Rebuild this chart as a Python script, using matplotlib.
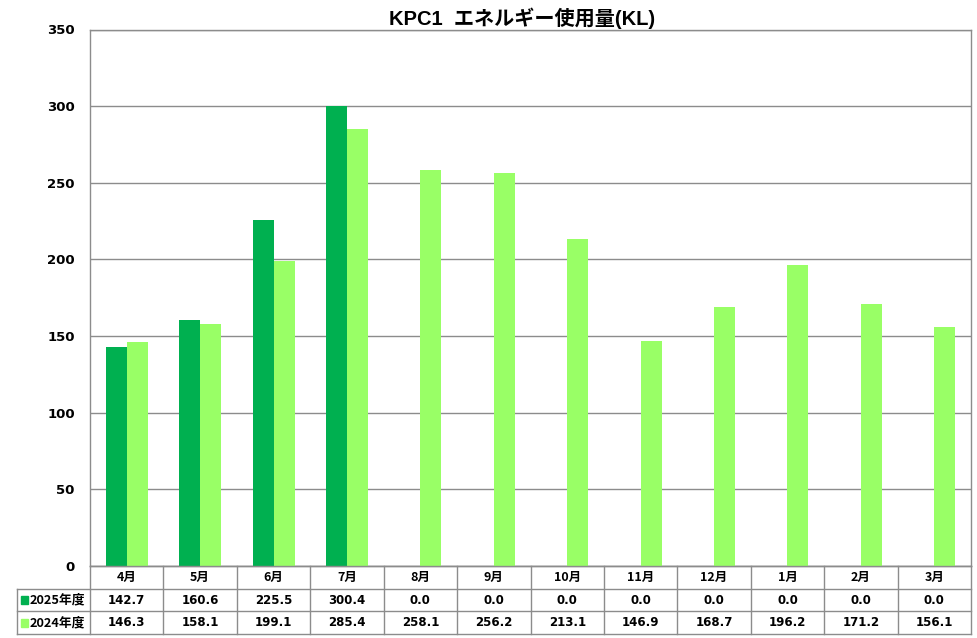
import matplotlib
matplotlib.use("Agg")
import matplotlib.pyplot as plt
from matplotlib.patches import Rectangle

plt.rcParams['font.family'] = ['Noto Sans CJK JP', 'DejaVu Sans']

months = ["4月", "5月", "6月", "7月", "8月", "9月", "10月", "11月", "12月", "1月", "2月", "3月"]
series_names = ["2025年度", "2024年度"]
values_2025 = [142.7, 160.6, 225.5, 300.4, 0.0, 0.0, 0.0, 0.0, 0.0, 0.0, 0.0, 0.0]
values_2024 = [146.3, 158.1, 199.1, 285.4, 258.1, 256.2, 213.1, 146.9, 168.7, 196.2, 171.2, 156.1]
colors = ["#00B050", "#99FF66"]
title = "KPC1  エネルギー使用量(KL)"
yticks = [0, 50, 100, 150, 200, 250, 300, 350]

num_font = ['DejaVu Sans']

W, H = 977, 638
fig = plt.figure(figsize=(W / 100, H / 100), dpi=100)

# main axes (pixel geometry)
ax_l, ax_r, ax_t, ax_b = 90, 971, 29.5, 566
ax = fig.add_axes([ax_l / W, (H - ax_b) / H, (ax_r - ax_l) / W, (ax_b - ax_t) / H])
n = len(months)
x = list(range(n))
bw = 0.286
ax.bar([i - bw / 2 for i in x], values_2025, width=bw, color=colors[0], zorder=3)
ax.bar([i + bw / 2 for i in x], values_2024, width=bw, color=colors[1], zorder=3)
ax.set_xlim(-0.5, n - 0.5)
ax.set_ylim(0, 350)
ax.set_yticks(yticks)
ax.set_yticklabels([str(v) for v in yticks], fontsize=9.5, fontweight='bold', family=num_font)
ax.tick_params(axis='y', length=0, pad=11)
ax.set_xticks([])
ax.grid(axis='y', color='#8c8c8c', linewidth=1.0, zorder=0)
for s in ax.spines.values():
    s.set_color('#8c8c8c')
    s.set_linewidth(1.0)
ax.set_title(title, fontsize=14.5, fontweight='bold', pad=3,
             family=['Liberation Sans', 'Noto Sans CJK JP'], x=0.49)

# table axes
unit_px = (ax_r - ax_l) / n
tb_l, tb_t, tb_b = 17, 566, 634
tax = fig.add_axes([tb_l / W, (H - tb_b) / H, (ax_r - tb_l) / W, (tb_b - tb_t) / H])
x_left = -0.5 - (ax_l - tb_l) / unit_px
tax.set_xlim(x_left, n - 0.5)
tax.set_ylim(3, 0)
tax.axis('off')
lc = '#8c8c8c'
lw = 1.0
tax.plot([-0.5, n - 0.5], [0, 0], color=lc, lw=lw, clip_on=False)
for yy in [1, 2, 3]:
    tax.plot([x_left, n - 0.5], [yy, yy], color=lc, lw=lw, clip_on=False)
for i in range(n + 1):
    tax.plot([i - 0.5, i - 0.5], [0, 3], color=lc, lw=lw, clip_on=False)
tax.plot([x_left, x_left], [1, 3], color=lc, lw=lw, clip_on=False)

for i, m in enumerate(months):
    tax.text(i, 0.5, m, ha='center', va='center', fontsize=9, fontweight='bold')
    tax.text(i, 1.5, f"{values_2025[i]:.1f}", ha='center', va='center', fontsize=8.5,
             fontweight='bold', family=num_font)
    tax.text(i, 2.5, f"{values_2024[i]:.1f}", ha='center', va='center', fontsize=8.5,
             fontweight='bold', family=num_font)

sq = 7 / unit_px
for r, (name, c) in enumerate(zip(series_names, colors)):
    cx = x_left + 4 / unit_px
    tax.add_patch(Rectangle((cx, 1.5 + r - 0.17), sq, 0.34, color=c, clip_on=False))
    tax.text(cx + sq + 2 / unit_px, 1.5 + r, name, ha='left', va='center', fontsize=9.2, fontweight='bold')

fig.savefig("out.png", dpi=100)
